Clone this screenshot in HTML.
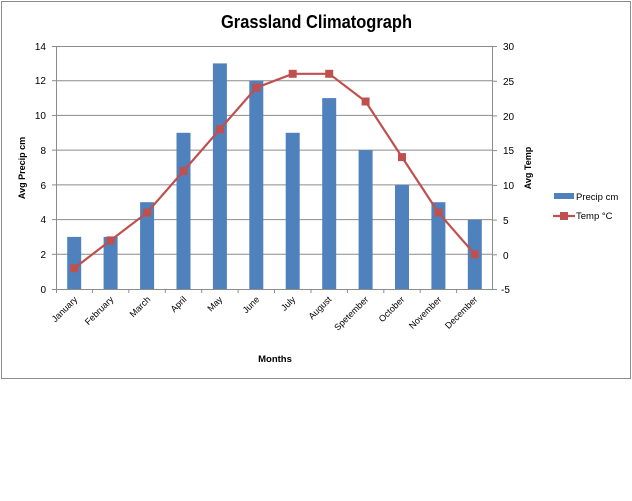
<!DOCTYPE html>
<html><head><style>body{margin:0;background:#fff}svg{display:block;font-family:"Liberation Sans",sans-serif}</style></head>
<body>
<svg width="632" height="501" viewBox="0 0 632 501">
<rect x="1.5" y="1.5" width="629" height="377" fill="#fff" stroke="#8c8c8c"/>
<text x="221" y="28" font-size="18" font-weight="bold" textLength="191" lengthAdjust="spacingAndGlyphs">Grassland Climatograph</text>
<g stroke="#8c8c8c" stroke-width="1">
<line x1="56" y1="46.5" x2="493" y2="46.5"/><line x1="56" y1="80.7" x2="493" y2="80.7"/><line x1="56" y1="115.4" x2="493" y2="115.4"/><line x1="56" y1="150.1" x2="493" y2="150.1"/><line x1="56" y1="184.9" x2="493" y2="184.9"/><line x1="56" y1="219.6" x2="493" y2="219.6"/><line x1="56" y1="254.3" x2="493" y2="254.3"/>
<line x1="56.5" y1="46" x2="56.5" y2="293"/><line x1="52" y1="289.5" x2="493" y2="289.5"/>
<line x1="492.5" y1="46" x2="492.5" y2="289"/>
</g>
<g stroke="#8c8c8c">
<line x1="52" y1="46.5" x2="56" y2="46.5"/><line x1="52" y1="80.7" x2="56" y2="80.7"/><line x1="52" y1="115.4" x2="56" y2="115.4"/><line x1="52" y1="150.1" x2="56" y2="150.1"/><line x1="52" y1="184.9" x2="56" y2="184.9"/><line x1="52" y1="219.6" x2="56" y2="219.6"/><line x1="52" y1="254.3" x2="56" y2="254.3"/>
<line x1="493" y1="46.5" x2="497" y2="46.5"/><line x1="493" y1="81.2" x2="497" y2="81.2"/><line x1="493" y1="115.9" x2="497" y2="115.9"/><line x1="493" y1="150.6" x2="497" y2="150.6"/><line x1="493" y1="185.4" x2="497" y2="185.4"/><line x1="493" y1="220.1" x2="497" y2="220.1"/><line x1="493" y1="254.8" x2="497" y2="254.8"/><line x1="493" y1="289.5" x2="497" y2="289.5"/>
<line x1="92.4" y1="289" x2="92.4" y2="293"/><line x1="128.8" y1="289" x2="128.8" y2="293"/><line x1="165.3" y1="289" x2="165.3" y2="293"/><line x1="201.7" y1="289" x2="201.7" y2="293"/><line x1="238.1" y1="289" x2="238.1" y2="293"/><line x1="274.5" y1="289" x2="274.5" y2="293"/><line x1="311" y1="289" x2="311" y2="293"/><line x1="347.4" y1="289" x2="347.4" y2="293"/><line x1="383.8" y1="289" x2="383.8" y2="293"/><line x1="420.2" y1="289" x2="420.2" y2="293"/><line x1="456.6" y1="289" x2="456.6" y2="293"/>
</g>
<g font-size="10" fill="#000" text-anchor="end">
<text x="46" y="50">14</text><text x="46" y="84">12</text><text x="46" y="119">10</text><text x="46" y="154">8</text><text x="46" y="189">6</text><text x="46" y="223">4</text><text x="46" y="258">2</text><text x="46" y="293">0</text>
</g>
<g font-size="10" fill="#000" text-anchor="start">
<text x="503" y="50">30</text><text x="503" y="85">25</text><text x="503" y="120">20</text><text x="503" y="154">15</text><text x="503" y="189">10</text><text x="503" y="224">5</text><text x="503" y="259">0</text><text x="501" y="293">-5</text>
</g>
<g fill="#4f81bd">
<rect x="67.2" y="236.9" width="14" height="52.1"/><rect x="103.6" y="236.9" width="14" height="52.1"/><rect x="140.1" y="202.2" width="14" height="86.8"/><rect x="176.5" y="132.8" width="14" height="156.2"/><rect x="212.9" y="63.4" width="14" height="225.6"/><rect x="249.3" y="80.7" width="14" height="208.3"/><rect x="285.7" y="132.8" width="14" height="156.2"/><rect x="322.2" y="98.1" width="14" height="190.9"/><rect x="358.6" y="150.1" width="14" height="138.9"/><rect x="395" y="184.9" width="14" height="104.1"/><rect x="431.4" y="202.2" width="14" height="86.8"/><rect x="467.8" y="219.6" width="14" height="69.4"/>
</g>
<polyline fill="none" stroke="#c0504d" stroke-width="2.2" points="74.2,268.2 110.6,240.4 147.1,212.6 183.5,171 219.9,129.3 256.3,87.7 292.7,73.8 329.2,73.8 365.6,101.5 402,157.1 438.4,212.6 474.8,254.3"/>
<g fill="#c0504d">
<rect x="70.2" y="264.2" width="8" height="8"/><rect x="106.6" y="236.4" width="8" height="8"/><rect x="143.1" y="208.6" width="8" height="8"/><rect x="179.5" y="167" width="8" height="8"/><rect x="215.9" y="125.3" width="8" height="8"/><rect x="252.3" y="83.7" width="8" height="8"/><rect x="288.7" y="69.8" width="8" height="8"/><rect x="325.2" y="69.8" width="8" height="8"/><rect x="361.6" y="97.5" width="8" height="8"/><rect x="398" y="153.1" width="8" height="8"/><rect x="434.4" y="208.6" width="8" height="8"/><rect x="470.8" y="250.3" width="8" height="8"/>
</g>
<g font-size="9" fill="#000" text-anchor="end">
<text transform="translate(78,300) rotate(-45)">January</text>
<text transform="translate(114,300) rotate(-45)">February</text>
<text transform="translate(151,300) rotate(-45)">March</text>
<text transform="translate(187,300) rotate(-45)">April</text>
<text transform="translate(223,300) rotate(-45)">May</text>
<text transform="translate(260,300) rotate(-45)">June</text>
<text transform="translate(296,300) rotate(-45)">July</text>
<text transform="translate(332,300) rotate(-45)">August</text>
<text transform="translate(369,300) rotate(-45)">Spetember</text>
<text transform="translate(405,300) rotate(-45)">October</text>
<text transform="translate(442,300) rotate(-45)">November</text>
<text transform="translate(478,300) rotate(-45)">December</text>
</g>
<text x="275" y="362" font-size="9.5" font-weight="bold" text-anchor="middle">Months</text>
<text transform="translate(25,168) rotate(-90)" font-size="9" font-weight="bold" text-anchor="middle">Avg Precip cm</text>
<text transform="translate(531,168) rotate(-90)" font-size="9" font-weight="bold" text-anchor="middle">Avg Temp</text>
<rect x="554" y="193" width="20" height="6" fill="#4f81bd"/>
<text x="576" y="200" font-size="9.5">Precip cm</text>
<line x1="553" y1="216" x2="575" y2="216" stroke="#c0504d" stroke-width="2.2"/>
<rect x="560" y="212" width="8" height="8" fill="#c0504d"/>
<text x="576" y="219" font-size="9.5">Temp  °C</text>
</svg>
</body></html>
